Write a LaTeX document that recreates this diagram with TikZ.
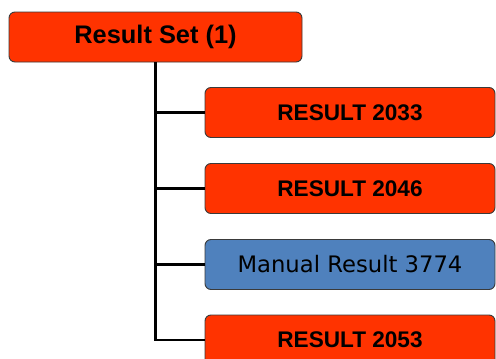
\documentclass[tikz,border=0pt]{standalone}
\usepackage{fontspec}
\setmainfont{Liberation Sans}
\newfontfamily\verdanalike{DejaVu Sans}
\definecolor{resred}{HTML}{FF3300}
\definecolor{resblue}{HTML}{4F81BD}
\definecolor{resedge}{HTML}{3A3A3A}
\begin{document}
\begin{tikzpicture}[x=1pt,y=-1pt,
  box/.style={draw=resedge, line width=0.9pt, rounded corners=6pt,
    minimum height=50pt, inner sep=0pt, text=black},
  redbox/.style={box, fill=resred, minimum width=290pt,
    font=\fontsize{22.6}{24}\selectfont\bfseries},
  bluebox/.style={box, fill=resblue, minimum width=290pt,
    font=\verdanalike\fontsize{22.7}{24}\selectfont},
  rootbox/.style={box, fill=resred, minimum width=293pt,
    font=\fontsize{25.4}{27}\selectfont\bfseries},
  link/.style={draw=black, line width=2.2pt}]
\useasboundingbox (0,0) rectangle (496,359);
\clip (0,0) rectangle (496,359);
% root and its result entries
\node[rootbox] (root) at (155.5,37) {Result Set (1)};
\node[redbox]  (r1) at (350,112.5) {RESULT 2033};
\node[redbox]  (r2) at (350,188.5) {RESULT 2046};
\node[bluebox] (r3) at (350,264.5) {Manual Result 3774};
\node[redbox]  (r4) at (350,340) {RESULT 2053};
% elbow links from the root down the trunk to each entry
\path[link] (root.south) |- (r4.west);
\path[link] (root.south) |- (r1.west);
\path[link] (root.south) |- (r2.west);
\path[link] (root.south) |- (r3.west);
\end{tikzpicture}
\end{document}
